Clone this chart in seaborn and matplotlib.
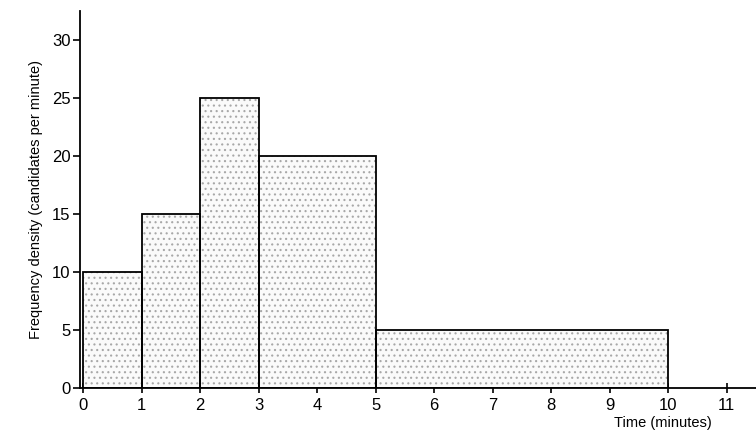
import numpy as np
import matplotlib
matplotlib.use("Agg")
import matplotlib.pyplot as plt
import seaborn as sns

# class boundaries (minutes) and frequency density (candidates per minute)
edges = [0, 1, 2, 3, 5, 10]
density = [10, 15, 25, 20, 5]
x_ticks = list(range(0, 12))
y_ticks = [0, 5, 10, 15, 20, 25, 30]

mids = [(a + b) / 2 for a, b in zip(edges[:-1], edges[1:])]

sns.set_style("ticks")
plt.rcParams["font.family"] = ["Liberation Sans", "DejaVu Sans"]
plt.rcParams["hatch.linewidth"] = 0.8

fig = plt.figure(figsize=(7.56, 4.42), dpi=100)
ax = fig.add_axes([0.106, 0.122, 0.894, 0.853])

# stippled fill
sns.histplot(x=mids, weights=density, bins=edges, stat="count",
             color="#fafafa", edgecolor="#a8a8a8", linewidth=0,
             hatch="...", alpha=1, ax=ax)
# outlines
sns.histplot(x=mids, weights=density, bins=edges, stat="count",
             fill=False, color="black", edgecolor="black", linewidth=1.3,
             ax=ax)

ax.set_xlim(-0.05, 11.5)
ax.set_ylim(0, 32.5)
ax.set_xticks(x_ticks)
ax.set_yticks(y_ticks)
ax.tick_params(axis="x", direction="inout", length=7, width=1.2,
               labelsize=12, pad=4, colors="black")
ax.tick_params(axis="y", direction="out", length=5, width=1.2,
               labelsize=12, pad=2, colors="black")
sns.despine(ax=ax)
for s in ("left", "bottom"):
    ax.spines[s].set_linewidth(1.3)
    ax.spines[s].set_color("black")

ax.set_ylabel("Frequency density (candidates per minute)", fontsize=10.5,
              labelpad=6, color="black")
ax.set_xlabel("")
fig.text(0.942, 0.035, "Time (minutes)", fontsize=10.5, ha="right",
         va="baseline", color="black")

fig.savefig("out.png", dpi=100)
